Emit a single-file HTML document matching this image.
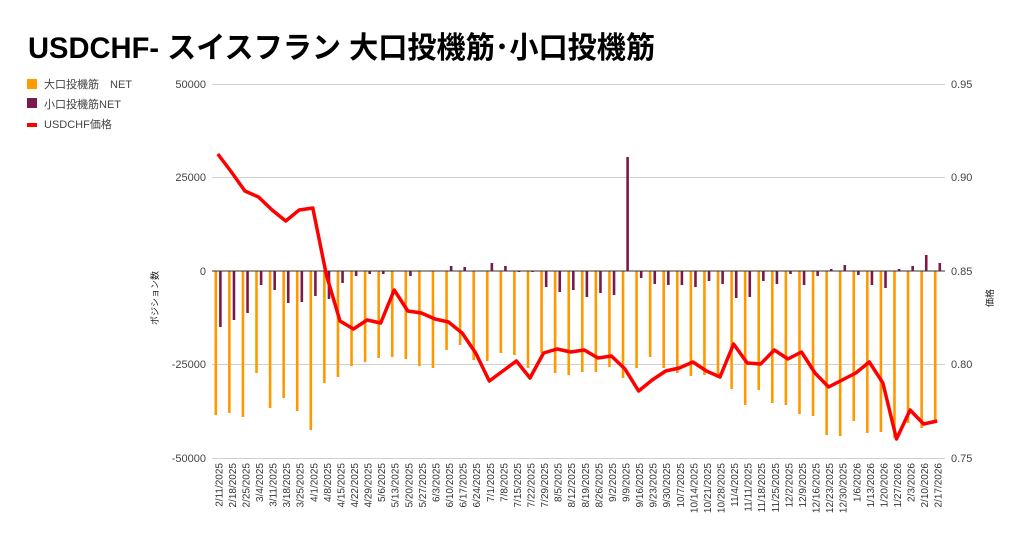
<!DOCTYPE html>
<html><head><meta charset="utf-8"><style>
html,body{margin:0;padding:0;background:#fff;width:1024px;height:541px;overflow:hidden}
svg{display:block;font-family:"Liberation Sans","Noto Sans CJK JP",sans-serif}
</style></head><body>
<svg id="s" width="1024" height="541" viewBox="0 0 1024 541">
<text x="28" y="58" font-size="30" font-weight="bold" fill="#000" textLength="627" lengthAdjust="spacingAndGlyphs">USDCHF- スイスフラン 大口投機筋･小口投機筋</text>
<rect x="27" y="79" width="10" height="10" fill="#ff9900"/>
<text x="44" y="88" font-size="11" fill="#444">大口投機筋　NET</text>
<rect x="27" y="98" width="10" height="10" fill="#7b1a4a"/>
<text x="44" y="108" font-size="11" fill="#444">小口投機筋NET</text>
<rect x="27" y="123" width="10" height="4" fill="#ff0000"/>
<text x="44" y="128" font-size="11" fill="#444">USDCHF価格</text>
<g stroke="#d0d0d0" stroke-width="1">
<line x1="212" x2="945" y1="84.5" y2="84.5"/><line x1="212" x2="945" y1="177.5" y2="177.5"/>
<line x1="212" x2="945" y1="364.5" y2="364.5"/><line x1="212" x2="945" y1="458.5" y2="458.5"/>
</g>
<g font-size="11" fill="#444" text-anchor="end">
<text x="206" y="88">50000</text><text x="206" y="181">25000</text><text x="206" y="275">0</text>
<text x="206" y="368">-25000</text><text x="206" y="462">-50000</text>
</g>
<g font-size="11" fill="#444">
<text x="951" y="88">0.95</text><text x="951" y="181">0.90</text><text x="951" y="275">0.85</text>
<text x="951" y="368">0.80</text><text x="951" y="462">0.75</text>
</g>
<text transform="translate(158,298) rotate(-90)" font-size="9" fill="#222" text-anchor="middle">ポジション数</text>
<text transform="translate(993,298) rotate(-90)" font-size="9" fill="#222" text-anchor="middle">価格</text>
<g id="bars"></g>
<line x1="212" x2="945" y1="271" y2="271" stroke="#333" stroke-width="1"/>
<polyline id="ln" fill="none" stroke="#ff0000" stroke-width="3.5" stroke-linejoin="round"/>
<g id="lbl" font-size="10" fill="#333" text-anchor="end">
<text>2/11/2025</text><text>2/18/2025</text><text>2/25/2025</text><text>3/4/2025</text><text>3/11/2025</text><text>3/18/2025</text><text>3/25/2025</text><text>4/1/2025</text><text>4/8/2025</text><text>4/15/2025</text><text>4/22/2025</text><text>4/29/2025</text><text>5/6/2025</text><text>5/13/2025</text><text>5/20/2025</text><text>5/27/2025</text><text>6/3/2025</text><text>6/10/2025</text><text>6/17/2025</text><text>6/24/2025</text><text>7/1/2025</text><text>7/8/2025</text><text>7/15/2025</text><text>7/22/2025</text><text>7/29/2025</text><text>8/5/2025</text><text>8/12/2025</text><text>8/19/2025</text><text>8/26/2025</text><text>9/2/2025</text><text>9/9/2025</text><text>9/16/2025</text><text>9/23/2025</text><text>9/30/2025</text><text>10/7/2025</text><text>10/14/2025</text><text>10/21/2025</text><text>10/28/2025</text><text>11/4/2025</text><text>11/11/2025</text><text>11/18/2025</text><text>11/25/2025</text><text>12/2/2025</text><text>12/9/2025</text><text>12/16/2025</text><text>12/23/2025</text><text>12/30/2025</text><text>1/6/2026</text><text>1/13/2026</text><text>1/20/2026</text><text>1/27/2026</text><text>2/3/2026</text><text>2/10/2026</text><text>2/17/2026</text>
</g>
</svg>
<script>
var O=[415,413,417,373,408,398,411,430,383,377,366,362,358,357,359,366,368,350,345,360,361,353,355,368,353,373,375,372,
372,367,378,368,357,368,373,376,375,377,389,405,390,403,405,414,416,435,436,421,433,432,438,423,428,421];
var P=[327,320,313,285,290,303,302,296,299,283,276,274,274,271,276,271,271,266,267,271,263,266,272,272,287,292,290,297,
293,295,157,278,284,285,285,287,281,284,298,297,281,284,274,285,276,269,265,275,285,288,269,266,255,263];
var L=[154,172,191,197,210,221,210,208,275,321,329,320,323,290,311,313,319,322,333,353,381,371,361,378,353,349,352,350,
358,356,369,391,380,371,368,362,371,377,344,363,364,350,359,352,373,387,380,373,362,383,439,410,424,421];
var ns="http://www.w3.org/2000/svg",b=document.getElementById('bars'),pts=[];
var lb=document.getElementById('lbl').children;
for(var i=0;i<54;i++){var c=212+13.574*(i+0.5);
 function r(x,y1,y2,col){var e=document.createElementNS(ns,'rect');e.setAttribute('x',x);e.setAttribute('y',Math.min(y1,y2));e.setAttribute('width',2.6);e.setAttribute('height',Math.max(0.5,Math.abs(y2-y1)));e.setAttribute('fill',col);b.appendChild(e);}
 r(c-4.3,271,O[i],'#ff9900');r(c+0.3,271,P[i],'#7b1a4a');
 pts.push((c-1).toFixed(1)+','+L[i]);
 lb[i].setAttribute('transform','translate('+(c+3.5).toFixed(1)+',463) rotate(-90)');}
document.getElementById('ln').setAttribute('points',pts.join(' '));
</script>
</body></html>
